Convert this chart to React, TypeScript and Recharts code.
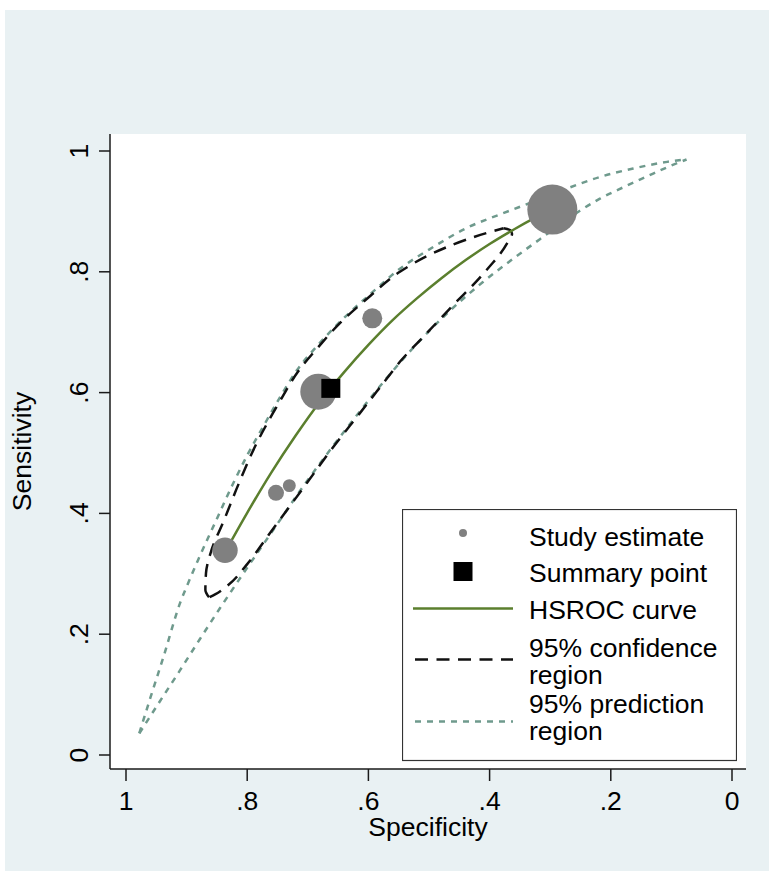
import React from "react";
import {
  ComposedChart,
  Scatter,
  Line,
  XAxis,
  YAxis,
  ZAxis,
  CartesianGrid,
  Legend,
  Label,
} from "recharts";

// axis ticks
const specTicks = [0, 0.2, 0.4, 0.6, 0.8, 1];
const sensTicks = [0, 0.2, 0.4, 0.6, 0.8, 1];

// individual studies (weight sets the bubble area)
const studySpec = [0.2965, 0.6827, 0.5936, 0.8366, 0.7525, 0.7305];
const studySens = [0.903, 0.6015, 0.723, 0.339, 0.434, 0.446];
const studyWeight = [625, 324, 100, 161, 64, 42];

// summary operating point
const summarySpec = 0.662;
const summarySens = 0.607;

// HSROC curve
const hsrocSpec = [0.8366, 0.8, 0.76, 0.72, 0.68, 0.64, 0.6, 0.56, 0.52, 0.48, 0.44, 0.4, 0.36, 0.32, 0.2965];
const hsrocSens = [0.336, 0.401, 0.468, 0.529, 0.585, 0.634, 0.679, 0.72, 0.756, 0.789, 0.819, 0.846, 0.87, 0.892, 0.904];

// 95% confidence region, [spec, sens], two branches tip to tip
const confUpper = [
  [0.863, 0.261], [0.869, 0.273], [0.868, 0.301], [0.859, 0.339], [0.839, 0.387],
  [0.812, 0.454], [0.784, 0.517], [0.766, 0.551], [0.743, 0.591], [0.716, 0.635],
  [0.683, 0.675], [0.647, 0.715], [0.597, 0.76], [0.548, 0.8], [0.493, 0.831],
  [0.439, 0.853], [0.399, 0.866], [0.377, 0.872],
];
const confLower = [
  [0.377, 0.872], [0.366, 0.869], [0.363, 0.863], [0.37, 0.849], [0.383, 0.829],
  [0.399, 0.81], [0.421, 0.785], [0.46, 0.745], [0.503, 0.699], [0.548, 0.651],
  [0.569, 0.624], [0.614, 0.566], [0.658, 0.51], [0.701, 0.451], [0.734, 0.406],
  [0.767, 0.361], [0.8, 0.316], [0.833, 0.28], [0.853, 0.266], [0.863, 0.261],
];

// 95% prediction region, [spec, sens]
const predUpper = [
  [0.978, 0.036], [0.96, 0.094], [0.938, 0.163], [0.911, 0.251], [0.896, 0.288],
  [0.881, 0.323], [0.851, 0.389], [0.823, 0.45], [0.799, 0.498], [0.774, 0.543],
  [0.746, 0.592], [0.718, 0.637], [0.683, 0.679], [0.647, 0.717], [0.597, 0.763],
  [0.548, 0.805], [0.493, 0.841], [0.437, 0.873], [0.383, 0.895], [0.328, 0.916],
  [0.272, 0.938], [0.218, 0.957], [0.163, 0.971], [0.107, 0.982], [0.075, 0.986],
];
const predLower = [
  [0.978, 0.036], [0.944, 0.089], [0.911, 0.14], [0.878, 0.192], [0.845, 0.243],
  [0.798, 0.313], [0.754, 0.377], [0.713, 0.437], [0.658, 0.512], [0.614, 0.569],
  [0.569, 0.625], [0.515, 0.686], [0.465, 0.736], [0.411, 0.783], [0.358, 0.824],
  [0.317, 0.854], [0.284, 0.878], [0.251, 0.901], [0.218, 0.921], [0.177, 0.941],
  [0.14, 0.958], [0.107, 0.973], [0.075, 0.986],
];

const legendLabels = [
  ["Study estimate"],
  ["Summary point"],
  ["HSROC curve"],
  ["95% confidence", "region"],
  ["95% prediction", "region"],
];

const FONT = '"Liberation Sans", Arial, Helvetica, sans-serif';
const FS = 26.5;
const AXIS = "#1a1a1a";
const GRAY = "#808080";
const GREEN = "#5b7f2e";
const TEAL = "#6f9a8d";
const BG = "#e9f1f3";

const toPoints = (pairs: number[][]) => pairs.map(([spec, sens]) => ({ spec, sens }));

const studies = studySpec.map((spec, i) => ({ spec, sens: studySens[i], weight: studyWeight[i] }));
const summary = [{ spec: summarySpec, sens: summarySens }];
const hsroc = hsrocSpec.map((spec, i) => ({ spec, sens: hsrocSens[i] }));

const fmt = (v: number) => (v === 0 ? "0" : v === 1 ? "1" : v.toFixed(1).replace(/^0/, ""));

function XTick({ x, y, payload }: any) {
  return (
    <text x={x} y={y} textAnchor="middle" fontSize={FS} fontFamily={FONT} fill="#000">
      {fmt(payload.value)}
    </text>
  );
}

function YTick({ x, y, payload }: any) {
  return (
    <text
      x={x}
      y={y}
      transform={`rotate(-90 ${x} ${y})`}
      textAnchor="middle"
      fontSize={FS}
      fontFamily={FONT}
      fill="#000"
    >
      {fmt(payload.value)}
    </text>
  );
}

function SummaryMarker({ cx, cy }: any) {
  return <rect x={cx - 9.5} y={cy - 9.5} width={19} height={19} fill="#000" />;
}

function HsrocLegend() {
  const rows = [37, 73, 109.5, 148, 204];
  return (
    <svg width={335} height={253} style={{ display: "block" }}>
      <rect x={0.5} y={0.5} width={334} height={251} fill="#fff" stroke="#333" strokeWidth={1.2} />
      <circle cx={61} cy={24} r={4} fill={GRAY} />
      <rect x={51.5} y={53} width={19} height={19} fill="#000" />
      <line x1={11} x2={111} y1={99.5} y2={99.5} stroke={GREEN} strokeWidth={2.5} />
      <line x1={13} x2={111} y1={150.5} y2={150.5} stroke="#111" strokeWidth={2.5} strokeDasharray="13 8.5" />
      <line x1={13} x2={111} y1={212.5} y2={212.5} stroke={TEAL} strokeWidth={2.5} strokeDasharray="6 6" />
      {legendLabels.map((lines, i) => (
        <text key={i} x={127} y={rows[i]} fontSize={FS} fontFamily={FONT} fill="#000">
          {lines.map((t, j) => (
            <tspan key={j} x={127} dy={j === 0 ? 0 : 27}>
              {t}
            </tspan>
          ))}
        </text>
      ))}
    </svg>
  );
}

export default function App() {
  return (
    <div style={{ position: "absolute", left: 0, top: 0, width: 769, height: 871, background: "#fff" }}>
      <div style={{ position: "absolute", left: 5, top: 10, right: 0, bottom: 0, background: BG }} />
      <div style={{ position: "absolute", left: 0, top: 0 }}>
        <ComposedChart width={769} height={871} margin={{ top: 134, right: 23, left: 0, bottom: 0 }}>
          <CartesianGrid fill="#fff" stroke="none" horizontal={false} vertical={false} />
          <XAxis
            dataKey="spec"
            type="number"
            domain={[0, 1]}
            ticks={specTicks}
            reversed
            padding={{ left: 16, right: 14 }}
            height={102}
            tickSize={12}
            tickMargin={29}
            tick={<XTick />}
            axisLine={{ stroke: AXIS, strokeWidth: 1.5 }}
            tickLine={{ stroke: AXIS, strokeWidth: 1.5 }}
            allowDataOverflow
          >
            <Label
              content={({ viewBox }: any) => (
                <text
                  x={viewBox.x + viewBox.width / 2}
                  y={viewBox.y + 67}
                  textAnchor="middle"
                  fontSize={FS}
                  fontFamily={FONT}
                  fill="#000"
                >
                  Specificity
                </text>
              )}
            />
          </XAxis>
          <YAxis
            dataKey="sens"
            type="number"
            domain={[0, 1]}
            ticks={sensTicks}
            padding={{ top: 17, bottom: 14 }}
            width={110}
            tickSize={11}
            tickMargin={11}
            tick={<YTick />}
            axisLine={{ stroke: AXIS, strokeWidth: 1.5 }}
            tickLine={{ stroke: AXIS, strokeWidth: 1.5 }}
            allowDataOverflow
          >
            <Label
              content={({ viewBox }: any) => {
                const lx = viewBox.x + 31;
                const ly = viewBox.y + viewBox.height / 2;
                return (
                  <text
                    x={lx}
                    y={ly}
                    transform={`rotate(-90 ${lx} ${ly})`}
                    textAnchor="middle"
                    fontSize={FS}
                    fontFamily={FONT}
                    fill="#000"
                  >
                    Sensitivity
                  </text>
                );
              }}
            />
          </YAxis>
          <ZAxis dataKey="weight" type="number" domain={[0, 1000]} range={[0, 1000 * Math.PI]} />
          <Legend
            layout="vertical"
            align="center"
            verticalAlign="middle"
            content={() => <HsrocLegend />}
            wrapperStyle={{ left: 402, top: 509, width: 335, height: 253 }}
          />
          <Scatter name="Study estimate" data={studies} fill={GRAY} isAnimationActive={false} />
          <Scatter name="Summary point" data={summary} shape={<SummaryMarker />} isAnimationActive={false} />
          <Line
            data={toPoints(predUpper)}
            dataKey="sens"
            type="monotoneX"
            stroke={TEAL}
            strokeWidth={2.5}
            strokeDasharray="6 6"
            dot={false}
            activeDot={false}
            isAnimationActive={false}
          />
          <Line
            data={toPoints(predLower)}
            dataKey="sens"
            type="monotoneX"
            stroke={TEAL}
            strokeWidth={2.5}
            strokeDasharray="6 6"
            dot={false}
            activeDot={false}
            isAnimationActive={false}
          />
          <Line
            data={toPoints(confUpper)}
            dataKey="sens"
            type="monotoneY"
            stroke="#111"
            strokeWidth={2.5}
            strokeDasharray="13 8.5"
            dot={false}
            activeDot={false}
            isAnimationActive={false}
          />
          <Line
            data={toPoints(confLower)}
            dataKey="sens"
            type="monotoneY"
            stroke="#111"
            strokeWidth={2.5}
            strokeDasharray="13 8.5"
            dot={false}
            activeDot={false}
            isAnimationActive={false}
          />
          <Line
            data={hsroc}
            dataKey="sens"
            type="monotoneX"
            stroke={GREEN}
            strokeWidth={2.5}
            dot={false}
            activeDot={false}
            isAnimationActive={false}
          />
        </ComposedChart>
      </div>
    </div>
  );
}
